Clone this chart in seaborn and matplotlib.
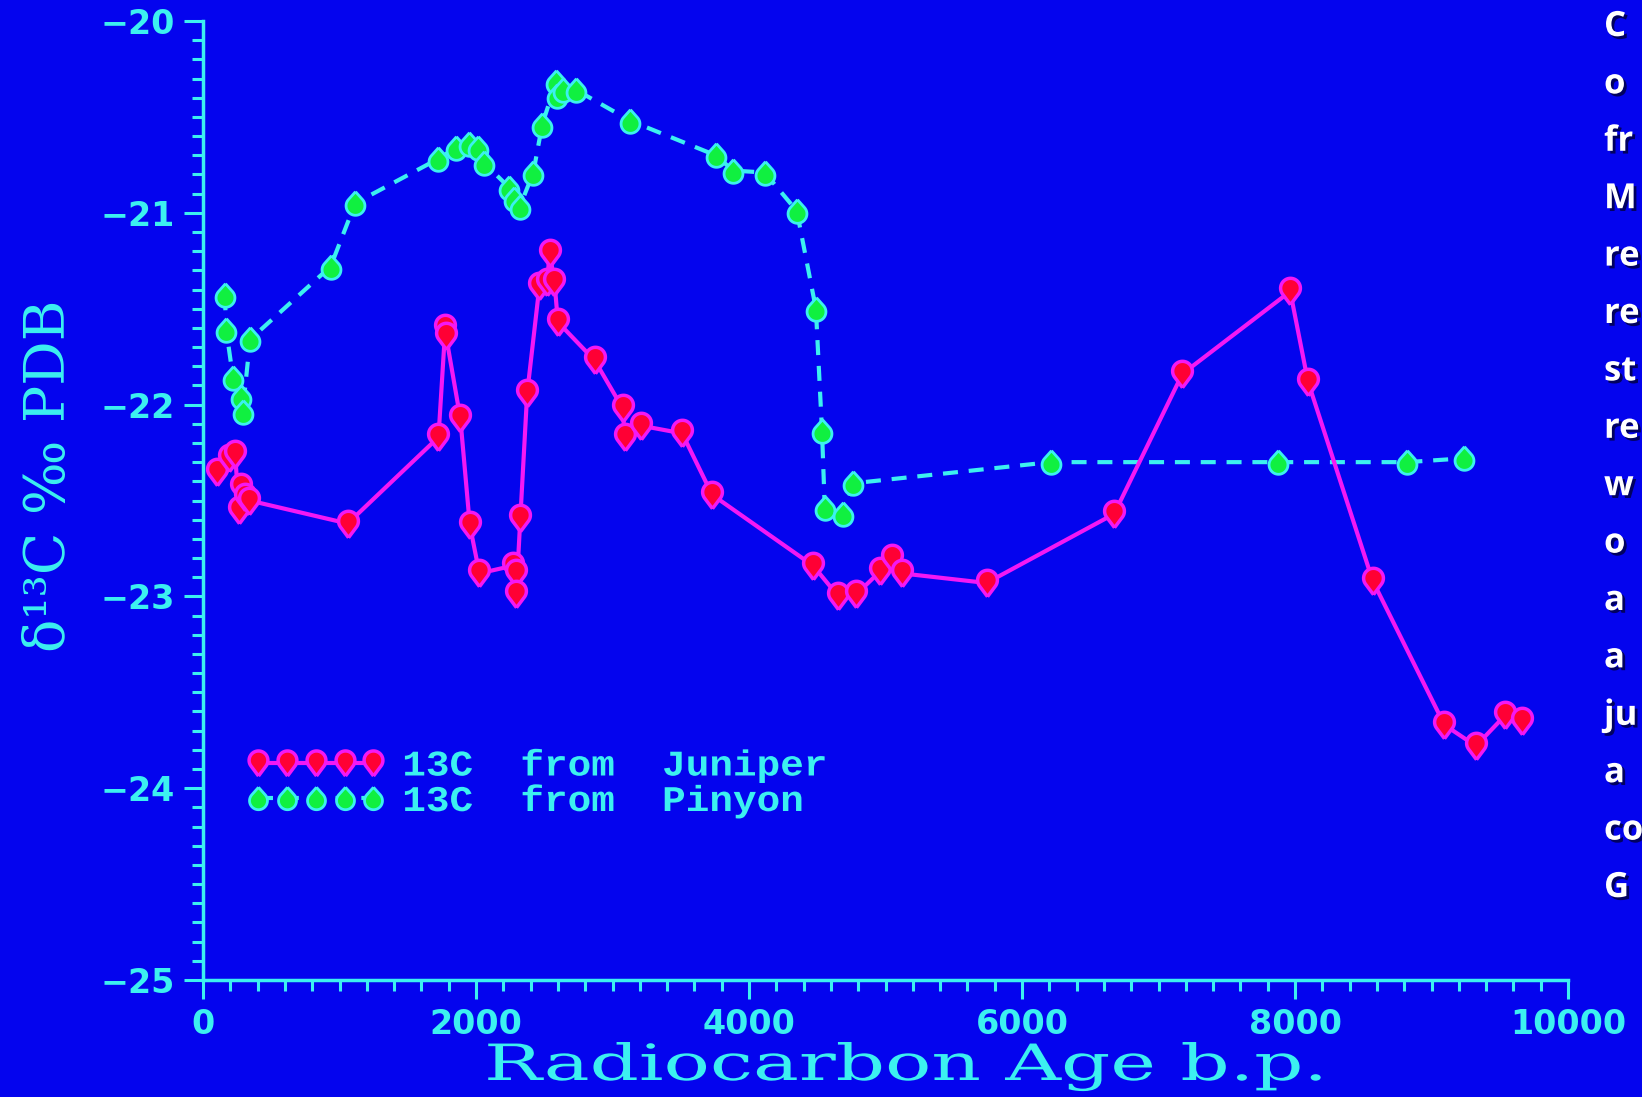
import numpy as np
import matplotlib
matplotlib.use("Agg")
import matplotlib.pyplot as plt
import matplotlib.patheffects as pe
from matplotlib.path import Path
from matplotlib.transforms import Affine2D
from matplotlib.ticker import MultipleLocator
import seaborn as sns

# delta 13C of juniper and pinyon wood vs radiocarbon age
juniper_age = [100, 190, 235, 265, 280, 305, 340, 1060, 1725, 1775, 1780, 1885,
               1955, 2025, 2270, 2290, 2295, 2325, 2375, 2465, 2520, 2540, 2575,
               2600, 2870, 3075, 3090, 3210, 3510, 3730, 4470, 4655, 4785, 4960,
               5045, 5120, 5740, 6675, 7175, 7965, 8095, 8570, 9095, 9325, 9540,
               9665]
juniper_d13c = [-22.35, -22.28, -22.26, -22.55, -22.43, -22.48, -22.50, -22.62,
                -22.17, -21.60, -21.64, -22.07, -22.63, -22.88, -22.84, -22.88,
                -22.99, -22.59, -21.94, -21.38, -21.36, -21.21, -21.36, -21.57,
                -21.77, -22.02, -22.17, -22.11, -22.15, -22.47, -22.84, -23.00,
                -22.99, -22.87, -22.80, -22.88, -22.93, -22.57, -21.84, -21.41,
                -21.88, -22.92, -23.67, -23.78, -23.62, -23.65]

pinyon_age = [160, 170, 220, 280, 290, 345, 935, 1115, 1720, 1855, 1950, 2015,
              2060, 2245, 2280, 2320, 2420, 2485, 2585, 2595, 2640, 2735, 3130,
              3755, 3885, 4115, 4350, 4490, 4535, 4555, 4690, 4765, 6210, 7875,
              8820, 9240]
pinyon_d13c = [-21.43, -21.61, -21.86, -21.96, -22.04, -21.66, -21.28, -20.95,
               -20.72, -20.66, -20.64, -20.66, -20.74, -20.87, -20.93, -20.97,
               -20.79, -20.54, -20.32, -20.39, -20.36, -20.36, -20.52, -20.70,
               -20.78, -20.79, -20.99, -21.50, -22.14, -22.54, -22.57, -22.41,
               -22.30, -22.30, -22.30, -22.28]

x_ticks = [0, 2000, 4000, 6000, 8000, 10000]
y_ticks = [-25, -24, -23, -22, -21, -20]

# slide text cut off at the right edge
side_text = ["C", "o", "fr", "M", "re", "re", "st", "re", "w", "o", "a", "a",
             "ju", "a", "co", "G"]

BG = "#0404EE"
CYAN = "#3CF0F0"
MAGENTA = "#F418F4"
RED = "#FF0034"
GREEN = "#10F040"


class HStretch(pe.AbstractPathEffect):
    """Draw text wider, like the old plotter font."""
    def __init__(self, sx):
        super().__init__()
        self.sx = sx

    def draw_path(self, renderer, gc, tpath, affine, rgbFace=None):
        renderer.draw_path(gc, tpath, Affine2D().scale(self.sx, 1) + affine, rgbFace)


def pin_marker(r, c, flip=False):
    # round head of radius r centred at (0, c), tip at (0, -1)
    a = np.degrees(np.arccos(r / (1 + c)))
    t = np.radians(np.linspace(-90 + a, 270 - a, 40))
    pts = [(0.0, -1.0)] + list(zip(r * np.cos(t), c + r * np.sin(t))) + [(0.0, -1.0)]
    if flip:
        pts = [(x, -y) for x, y in pts]
    return Path(pts)


sns.set_style("ticks")
plt.rcParams["font.family"] = ["DejaVu Sans"]

W, H = 1642, 1097
fig = plt.figure(figsize=(W / 100, H / 100), dpi=100, facecolor=BG)
ax = fig.add_axes([203 / W, 1 - 980 / H, (1568 - 203) / W, (980 - 21) / H])
ax.set_facecolor(BG)

sns.lineplot(x=pinyon_age, y=pinyon_d13c, ax=ax, sort=False, estimator=None,
             color=CYAN, linewidth=3, dashes=(3.6, 2.6), marker=pin_marker(0.8, 0.2, flip=True),
             markersize=17, markerfacecolor=GREEN, markeredgecolor=CYAN,
             markeredgewidth=2, label="13C  from  Pinyon", zorder=3, clip_on=False)
sns.lineplot(x=juniper_age, y=juniper_d13c, ax=ax, sort=False, estimator=None,
             color=MAGENTA, linewidth=3, marker=pin_marker(0.75, 0.25),
             markersize=19, markerfacecolor=RED, markeredgecolor=MAGENTA,
             markeredgewidth=2.5, label="13C  from  Juniper", zorder=4, clip_on=False)

ax.set_xlim(0, 10000)
ax.set_ylim(-25, -20)
ax.set_xticks(x_ticks)
ax.set_yticks(y_ticks)
ax.xaxis.set_minor_locator(MultipleLocator(200))
ax.yaxis.set_minor_locator(MultipleLocator(0.1))
ax.tick_params(which="major", length=14, width=2.2, color=CYAN, labelcolor=CYAN,
               labelsize=24, pad=6, direction="out")
ax.tick_params(which="minor", length=8, width=2.2, color=CYAN, direction="out")
for lab in ax.get_xticklabels() + ax.get_yticklabels():
    lab.set_fontweight("bold")
for side in ["top", "right"]:
    ax.spines[side].set_visible(False)
for side in ["left", "bottom"]:
    ax.spines[side].set_color(CYAN)
    ax.spines[side].set_linewidth(2.5)
ax.set_xlabel("")
ax.set_ylabel("")

# legend (Juniper first)
handles, labels = ax.get_legend_handles_labels()
order = [labels.index("13C  from  Juniper"), labels.index("13C  from  Pinyon")]
leg = ax.legend([handles[i] for i in order], [labels[i] for i in order],
                loc="upper left", bbox_to_anchor=(247 / W, 1 - 748 / H),
                bbox_transform=fig.transFigure, frameon=False, numpoints=5,
                handlelength=3.8, handletextpad=0.5, labelspacing=0.0,
                borderpad=0, borderaxespad=0, markerscale=0.95,
                prop={"family": "Liberation Mono", "weight": "bold", "size": 26})
for txt in leg.get_texts():
    txt.set_color(CYAN)
    txt.set_path_effects([HStretch(1.09)])

fig.text(50 / W, 1 - 476 / H, "δ¹³C ‰ PDB", rotation=90, ha="center", va="center",
         color=CYAN, fontsize=40, family="DejaVu Serif")
fig.text(484 / W, 1 - 1080 / H, "Radiocarbon Age b.p.", ha="left", va="baseline",
         color=CYAN, fontsize=36, family="DejaVu Serif",
         path_effects=[HStretch(1.54)])

for i, s in enumerate(side_text):
    fig.text(1604 / W, 1 - (36 + i * 57.4) / H, s, ha="left", va="baseline",
             color="white", fontsize=25, fontweight="bold", family=["Open Sans", "DejaVu Sans"],
             path_effects=[pe.SimplePatchShadow(offset=(2, -2), shadow_rgbFace="black", alpha=0.6),
                           pe.Normal()])

fig.savefig("out.png", dpi=100, facecolor=BG)
